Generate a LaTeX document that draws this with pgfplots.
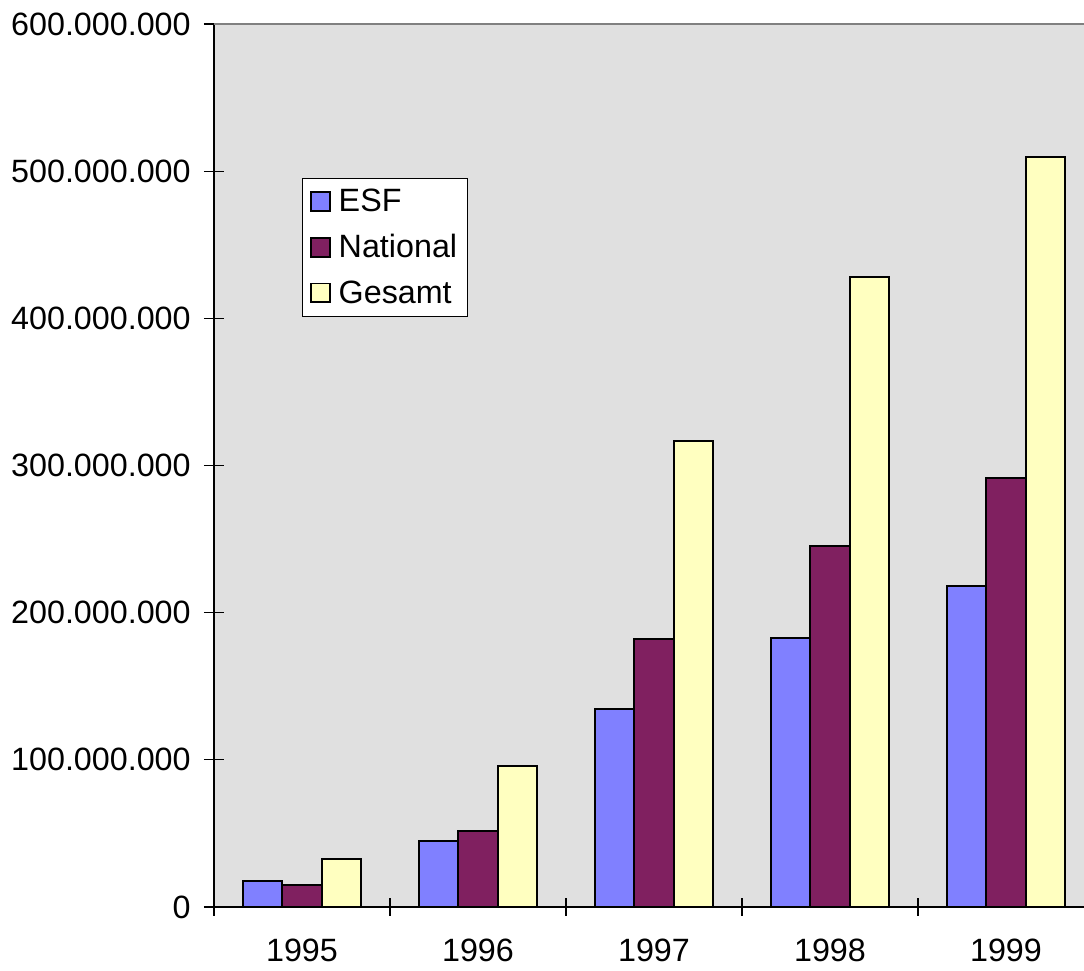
\documentclass[border=0pt]{standalone}
\usepackage{pgfplots}
\pgfplotsset{compat=1.18}
\usepackage{fontspec}
\setmainfont{Liberation Sans}
\definecolor{esf}{HTML}{8080FF}
\definecolor{nat}{HTML}{802060}
\definecolor{ges}{HTML}{FFFFC0}
\definecolor{bg}{HTML}{E0E0E0}
\begin{document}
\begin{tikzpicture}[x=1pt,y=1pt]
\useasboundingbox (-160.5,-47.25) rectangle (652.5,680.25);
\begin{axis}[
  name=ax,
  scale only axis,
  width=660pt, height=662.25pt,
  xmin=-0.5, xmax=4.5,
  ymin=0, ymax=600000000,
  ybar=0pt, bar width=29.6pt,
  axis lines*=left,
  axis line style={-, black, line width=1pt},
  axis background/.style={fill=bg},
  xtick={0,1,2,3,4},
  xticklabels={1995,1996,1997,1998,1999},
  major x tick style={draw=none},
  minor xtick={-0.5,0.5,1.5,2.5,3.5,4.5},
  minor x tick style={black, line width=0.8pt},
  minor tick length=13pt,
  ytick={0,100000000,200000000,300000000,400000000,500000000,600000000},
  y tick style={black, line width=0.8pt},
  major tick length=15pt,
  tick align=center,
  scaled y ticks=false,
  /pgf/number format/fixed,
  /pgf/number format/1000 sep={.},
  /pgf/number format/assume math mode=true,
  xticklabel style={yshift=-13pt},
  yticklabel style={xshift=-6.5pt},
  tick label style={font=\fontsize{24.2}{28}\selectfont},
  legend style={at={(0.0998,0.826)}, anchor=north west, draw=black, line width=0.6pt,
    font=\fontsize{24.2}{28}\selectfont, inner xsep=6pt, inner ysep=6.5pt,
    /tikz/every odd column/.append style={column sep=4pt},
    row sep=11.5pt},
  legend cell align=left,
  legend image code/.code={\draw[#1, draw=black, line width=1.4pt] (0pt,-7pt) rectangle (14pt,7pt);},
]
\addplot[fill=esf, draw=black, line width=1.4pt] coordinates {(0,17700000) (1,44800000) (2,134500000) (3,182800000) (4,218000000)};
\addplot[fill=nat, draw=black, line width=1.4pt] coordinates {(0,15000000) (1,51600000) (2,182000000) (3,245300000) (4,291500000)};
\addplot[fill=ges, draw=black, line width=1.4pt] coordinates {(0,32600000) (1,95800000) (2,316600000) (3,428000000) (4,509600000)};
\legend{ESF,National,Gesamt}
\draw[gray, line width=1.2pt] (rel axis cs:0,1) -- (rel axis cs:1,1);
\end{axis}
\end{tikzpicture}
\end{document}
